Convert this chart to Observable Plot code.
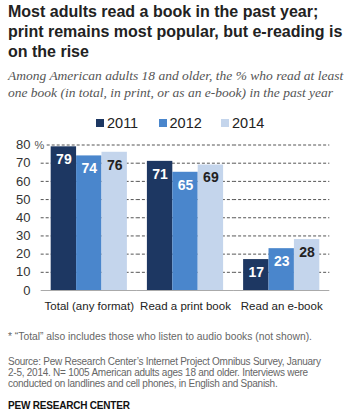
<!DOCTYPE html>
<html>
<head>
<meta charset="utf-8">
<script src="https://cdn.jsdelivr.net/npm/d3@7"></script>
<script src="https://cdn.jsdelivr.net/npm/@observablehq/plot@0.6"></script>
<style>
  html, body { margin: 0; padding: 0; background: #fff; }
  body { width: 350px; height: 419px; position: relative; overflow: hidden; font-family: "Liberation Sans", Arial, sans-serif; }
  .abs { position: absolute; white-space: nowrap; }
  #title { left: 8px; top: 2px; font-size: 16px; font-weight: bold; line-height: 20px; color: #222; }
  #subtitle { left: 8px; top: 67px; font-family: "Liberation Serif", serif; font-style: italic; font-size: 13.5px; line-height: 17px; color: #555; }
  #legend { left: 96px; top: 113px; height: 20px; display: flex; font-size: 14.5px; color: #222; }
  #legend .item { width: 62.5px; display: flex; align-items: center; }
  #legend .sw { width: 8px; height: 8px; margin-right: 3px; }
  #chart { left: 0; top: 132px; }
  #note { left: 8px; top: 331px; font-size: 10.3px; line-height: 11px; color: #666; }
  #source { left: 8px; top: 356px; font-size: 10px; letter-spacing: -0.25px; line-height: 11px; color: #666; }
  #pew { left: 8px; top: 400px; font-size: 10px; font-weight: bold; letter-spacing: -0.2px; line-height: 11px; color: #111; }
</style>
</head>
<body>
<div id="title" class="abs">Most adults read a book in the past year;<br>print remains most popular, but e-reading is<br>on the rise</div>
<div id="subtitle" class="abs">Among American adults 18 and older, the % who read at least<br>one book (in total, in print, or as an e-book) in the past year</div>
<div id="legend" class="abs"></div>
<div id="chart" class="abs"></div>
<div id="note" class="abs">* “Total” also includes those who listen to audio books (not shown).</div>
<div id="source" class="abs">Source: Pew Research Center’s Internet Project Omnibus Survey, January<br>2-5, 2014. N= 1005 American adults ages 18 and older. Interviews were<br>conducted on landlines and cell phones, in English and Spanish.</div>
<div id="pew" class="abs">PEW RESEARCH CENTER</div>
<script>
const categories = ["Total (any format)", "Read a print book", "Read an e-book"];
const years = ["2011", "2012", "2014"];
const values2011 = [79, 71, 17];
const values2012 = [74, 65, 23];
const values2014 = [76, 69, 28];
const yTicks = [0, 10, 20, 30, 40, 50, 60, 70, 80];
const colors = ["#1d3762", "#4a86cc", "#c4d5ec"];
const labelColors = ["#fff", "#fff", "#222"];

const series = [values2011, values2012, values2014];
const data = categories.flatMap((c, i) => years.map((y, j) => ({category: c, year: y, value: series[j][i]})));

// legend
const legend = document.getElementById("legend");
years.forEach((y, j) => {
  const item = document.createElement("div");
  item.className = "item";
  item.innerHTML = `<span class="sw" style="background:${colors[j]}"></span><span>${y}</span>`;
  legend.appendChild(item);
});

const gridStyle = {stroke: "#555", strokeDasharray: "3,2", insetLeft: -10, insetRight: -10};
const chart = Plot.plot({
  width: 350,
  height: 186,
  marginTop: 12.5,
  marginBottom: 28,
  marginLeft: 40,
  marginRight: 20,
  style: {fontFamily: "'Liberation Sans', Arial, sans-serif", color: "#222", background: "transparent"},
  fx: {domain: categories, paddingInner: 0.208, paddingOuter: 0.111, round: false, label: null, axis: null},
  x: {domain: years, padding: 0, round: false, axis: null},
  y: {domain: [0, 80], axis: null},
  color: {domain: years, range: colors},
  marks: [
    Plot.ruleY(yTicks.filter(d => d > 0 && d < 80), gridStyle),
    // 80 gridline: in the first group it starts just after the "%" sign
    Plot.ruleY([yTicks[8]], {...gridStyle, fx: () => categories[0], insetLeft: -4}),
    Plot.ruleY(categories.slice(1), {...gridStyle, fx: d => d, y: () => yTicks[8]}),
    Plot.barY(data, {fx: "category", x: "year", y: "value", fill: "year"}),
    Plot.ruleY([0], {stroke: "#aaa", strokeWidth: 1.2, insetLeft: -10, insetRight: -10}),
    Plot.text(data, {fx: "category", x: "year", y: "value", text: d => String(d.value), dy: 13,
      fill: d => labelColors[years.indexOf(d.year)], fontWeight: "bold", fontSize: 14}),
    Plot.text(yTicks, {fx: () => categories[0], y: d => d, text: d => String(d), frameAnchor: "left", textAnchor: "end", dx: -20.7, fontSize: 13, fill: "#333"}),
    Plot.text([yTicks[8]], {fx: () => categories[0], y: d => d, text: () => "%", frameAnchor: "left", textAnchor: "start", dx: -16.7, fontSize: 11, fill: "#555"}),
    Plot.axisFx({anchor: "bottom", tickSize: 0, tickPadding: 11, fontSize: 11.5, label: null})
  ]
});
document.getElementById("chart").appendChild(chart);
</script>
</body>
</html>
